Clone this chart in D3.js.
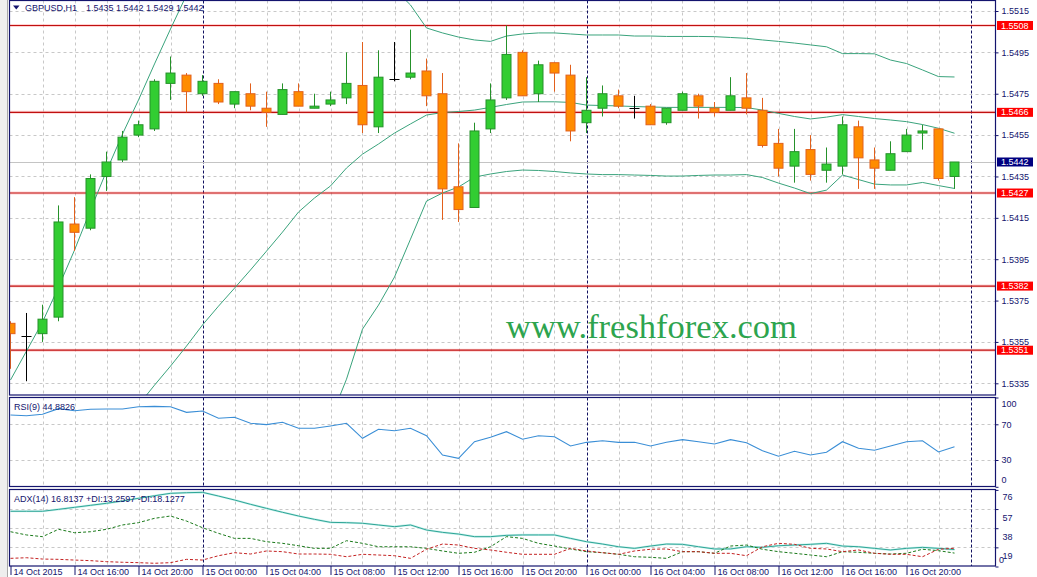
<!DOCTYPE html>
<html><head><meta charset="utf-8">
<script src="https://cdn.jsdelivr.net/npm/d3@7"></script>
<style>
html,body{margin:0;padding:0;background:#fff;overflow:hidden;}
svg{display:block;}
</style></head><body>
<svg id="chart" width="1037" height="577"></svg>
<script>
// ---------------- DATA ----------------
const symbol = "GBPUSD,H1";
const lastQuote = [1.5435, 1.5442, 1.5429, 1.5442];
const opens  = [1.5364,1.5358,1.5359,1.5367,1.5412,1.5410,1.5435,1.5443,1.5455,1.5458,
                1.5480,1.5484,1.5475,1.5480,1.5470,1.5475,1.5468,1.5465,1.5476,1.5468,
                1.5470,1.5473,1.5479,1.5459,1.5482,1.5483,1.5486,1.5475,1.5430,1.5420,
                1.5458,1.5473,1.5495,1.5475,1.5490,1.5484,1.5461,1.5468,1.5474,1.5468,
                1.5469,1.5461,1.5467,1.5474,1.5468,1.5467,1.5473,1.5467,1.5451,1.5440,
                1.5448,1.5438,1.5440,1.5459,1.5443,1.5438,1.5447,1.5456,1.5458,1.5435];
const highs  = [1.5365,1.5369,1.5373,1.5421,1.5425,1.5436,1.5447,1.5457,1.5462,1.5482,
                1.5493,1.5485,1.5484,1.5482,1.5476,1.5480,1.5476,1.5480,1.5480,1.5475,
                1.5476,1.5495,1.5500,1.5496,1.5500,1.5506,1.5492,1.5485,1.5451,1.5461,
                1.5480,1.5508,1.5496,1.5491,1.5490,1.5489,1.5483,1.5479,1.5477,1.5474,
                1.5470,1.5468,1.5476,1.5475,1.5471,1.5483,1.5485,1.5473,1.5458,1.5458,
                1.5455,1.5449,1.5464,1.5462,1.5449,1.5452,1.5458,1.5460,1.5458,1.5442];
const lows   = [1.5342,1.5336,1.5355,1.5365,1.5399,1.5409,1.5428,1.5442,1.5454,1.5457,
                1.5472,1.5466,1.5474,1.5470,1.5468,1.5467,1.5459,1.5465,1.5469,1.5468,
                1.5469,1.5470,1.5456,1.5456,1.5481,1.5482,1.5469,1.5414,1.5413,1.5420,
                1.5456,1.5472,1.5474,1.5471,1.5476,1.5452,1.5456,1.5464,1.5468,1.5463,
                1.5460,1.5460,1.5467,1.5463,1.5464,1.5467,1.5465,1.5449,1.5435,1.5432,
                1.5433,1.5432,1.5436,1.5429,1.5429,1.5438,1.5447,1.5448,1.5433,1.5429];
const closes = [1.5359,1.5358,1.5366,1.5413,1.5408,1.5434,1.5442,1.5454,1.5460,1.5481,
                1.5485,1.5476,1.5481,1.5471,1.5476,1.5469,1.5466,1.5477,1.5469,1.5469,
                1.5472,1.5480,1.5460,1.5483,1.5482,1.5485,1.5474,1.5429,1.5419,1.5457,
                1.5472,1.5494,1.5474,1.5489,1.5485,1.5457,1.5467,1.5475,1.5469,1.5468,
                1.5460,1.5468,1.5475,1.5469,1.5466,1.5474,1.5468,1.5450,1.5439,1.5447,
                1.5436,1.5441,1.5460,1.5444,1.5439,1.5446,1.5455,1.5457,1.5434,1.5442];

const bbUpper  = [1.53366,1.53506,1.53646,1.53815,1.53994,1.54188,1.54376,1.54555,1.54720,1.54894,
                  1.55063,1.55227,1.55324,1.55397,1.55445,1.55469,1.55484,1.55484,1.55469,1.55445,
                  1.55431,1.55411,1.55305,1.55285,1.55256,1.55179,1.55068,1.55044,1.55024,1.55010,
                  1.55003,1.55029,1.55039,1.55044,1.55044,1.55039,1.55034,1.55034,1.55034,1.55029,
                  1.55029,1.55027,1.55027,1.55027,1.55026,1.55022,1.55018,1.55010,1.55003,1.54995,
                  1.54986,1.54977,1.54944,1.54944,1.54943,1.54913,1.54896,1.54865,1.54833,1.54831];
const bbMiddle = [1.52548,1.52635,1.52722,1.52809,1.52896,1.52984,1.53071,1.53158,1.53245,1.53341,
                  1.53433,1.53530,1.53632,1.53723,1.53810,1.53898,1.53989,1.54081,1.54178,1.54246,
                  1.54304,1.54391,1.54458,1.54507,1.54560,1.54604,1.54647,1.54659,1.54664,1.54671,
                  1.54684,1.54698,1.54710,1.54711,1.54711,1.54708,1.54695,1.54693,1.54691,1.54688,
                  1.54686,1.54684,1.54684,1.54684,1.54684,1.54684,1.54683,1.54671,1.54655,1.54640,
                  1.54628,1.54637,1.54649,1.54640,1.54630,1.54623,1.54615,1.54601,1.54583,1.54559];
const bbLower  = [1.51731,1.51765,1.51799,1.51804,1.51799,1.51779,1.51765,1.51760,1.51770,1.51789,
                  1.51804,1.51833,1.51939,1.52050,1.52176,1.52326,1.52495,1.52679,1.52887,1.53046,
                  1.53177,1.53370,1.53612,1.53728,1.53864,1.54047,1.54231,1.54270,1.54299,1.54347,
                  1.54362,1.54374,1.54381,1.54379,1.54374,1.54367,1.54362,1.54359,1.54359,1.54357,
                  1.54355,1.54352,1.54352,1.54355,1.54357,1.54357,1.54359,1.54345,1.54318,1.54294,
                  1.54267,1.54284,1.54357,1.54335,1.54313,1.54309,1.54309,1.54321,1.54306,1.54292];

const rsi = [80.4,79.6,81.2,87.5,85.2,86.8,87.1,87.1,89.7,90.1,
             89.7,83.4,84.9,76.7,77.8,71.1,69.6,72.2,65.5,65.5,
             68.1,71.1,54.3,64.4,62.8,65.5,57.2,35.6,31.9,50.5,
             55.4,61.7,53.2,57.2,56.1,45.7,49.8,51.6,49.8,49.8,
             45.7,49.8,52.8,50.5,47.9,52.8,49.4,40.4,34.2,39.8,
             35.6,38.6,50.5,43.1,40.9,45.7,50.5,51.6,39.0,44.9];
const adx = [54.8,54.8,54.8,56.7,58.7,60.7,62.7,65.0,67.7,70.2,
             72.6,73.2,73.6,69.9,66.0,61.7,57.7,53.8,50.1,46.8,
             43.8,43.5,42.9,41.2,39.5,41.2,36.2,33.9,32.2,29.6,
             29.6,30.9,31.3,31.3,31.3,27.9,24.6,22.3,19.6,18.0,
             20.3,22.3,22.0,19.6,17.4,17.4,19.6,19.0,20.6,21.3,
             22.0,23.0,20.3,19.6,18.0,16.4,18.0,19.0,18.0,16.8];
const plusDI = [34.5,31.3,29.6,36.9,33.5,34.5,36.9,41.2,43.5,47.8,
                50.1,45.1,38.5,32.9,27.9,27.9,24.6,23.0,20.6,18.0,
                18.0,25.6,23.0,19.6,19.6,19.6,18.0,15.4,13.1,14.1,
                19.6,29.6,27.9,23.0,20.3,17.4,14.7,13.7,12.1,9.7,
                9.1,8.1,14.7,14.7,13.1,20.3,21.3,17.1,14.7,13.1,
                11.4,9.7,14.7,14.1,13.1,12.4,13.1,17.1,15.7,13.3];
const minusDI = [8.1,8.7,7.4,7.1,6.4,5.8,4.8,4.2,3.8,3.2,
                 3.8,7.1,6.4,10.7,13.7,12.4,15.4,14.7,12.4,12.4,
                 12.1,9.7,12.1,11.4,10.7,8.1,17.1,22.3,21.3,18.0,
                 16.4,14.1,12.1,12.1,12.1,18.0,15.4,13.7,12.1,15.4,
                 17.1,17.4,14.7,14.7,13.1,13.1,10.7,19.6,23.0,22.0,
                 18.0,17.4,14.7,16.4,13.1,12.1,12.1,9.7,17.1,18.1];

const levels = [1.5508, 1.5466, 1.5427, 1.5382, 1.5351];
const priceTicks = [1.5515,1.5495,1.5475,1.5455,1.5435,1.5415,1.5395,1.5375,1.5355,1.5335];
const timeLabels = ["14 Oct 2015","14 Oct 16:00","14 Oct 20:00","15 Oct 00:00","15 Oct 04:00",
                    "15 Oct 08:00","15 Oct 12:00","15 Oct 16:00","15 Oct 20:00","16 Oct 00:00",
                    "16 Oct 04:00","16 Oct 08:00","16 Oct 12:00","16 Oct 16:00","16 Oct 20:00"];
const timeLabelBars = [0,4,8,12,16,20,24,28,32,36,40,44,48,52,56];
const daySeparatorBars = [12, 36, 60];
const rsiTicks = [100, 70, 30, 0];
const rsiGrid = [70, 30];
const adxTicks = [76, 57, 38, 19, 0];
const adxGrid = [57, 38, 19];
const rsiLabel = "RSI(9) 44.8826";
const adxLabel = "ADX(14) 16.8137 +DI:13.2597 -DI:18.1277";
const watermark = "www.freshforex.com";

// ---------------- LAYOUT ----------------
const FONT = "'Liberation Sans', Arial, sans-serif";
const NAVY = "#14146e";
const svg = d3.select("#chart");
const L = 9.5, R = 995.5;
const P = {main:[0.5, 395], rsi:[397.5, 486.5], adx:[489.5, 566]};

const x  = d3.scaleLinear().domain([0, 60]).range([10.5, 970.5]);
const yP = d3.scaleLinear().domain([1.5335, 1.5515]).range([383.3, 11]);
const yR = d3.scaleLinear().domain([0, 100]).range([486.8, 397.5]);
const yA = d3.scaleLinear().domain([0, 76]).range([566.5, 489.9]);

svg.append("rect").attr("width",1037).attr("height",577).attr("fill","#fff");
// left window strip
svg.append("rect").attr("x",0).attr("y",0).attr("width",7).attr("height",577).attr("fill","#eeeeee");
svg.append("line").attr("x1",7.5).attr("x2",7.5).attr("y1",0).attr("y2",577).attr("stroke","#a8a8a8");

const defs = svg.append("defs");
Object.entries(P).forEach(([k,[t,b]])=>{
  defs.append("clipPath").attr("id","clip-"+k).append("rect")
    .attr("x",10).attr("y",t).attr("width",R-10).attr("height",b-t);
});

const barIdx = d3.range(opens.length);
const gridBars = d3.range(2, 61, 2).filter(b => !daySeparatorBars.includes(b));

function panelGrid(key, yScale, gridVals){
  const g = svg.append("g").attr("clip-path",`url(#clip-${key})`);
  const [t,b] = P[key];
  g.selectAll("line.v").data(gridBars).join("line")
    .attr("x1",d=>Math.round(x(d))+0.5).attr("x2",d=>Math.round(x(d))+0.5)
    .attr("y1",t).attr("y2",b)
    .attr("stroke","#c8c8c8").attr("stroke-dasharray","3,3");
  g.selectAll("line.h").data(gridVals).join("line")
    .attr("x1",L).attr("x2",R)
    .attr("y1",d=>Math.round(yScale(d))+0.5).attr("y2",d=>Math.round(yScale(d))+0.5)
    .attr("stroke","#c8c8c8").attr("stroke-dasharray","3,3");
  g.selectAll("line.sep").data(daySeparatorBars).join("line")
    .attr("x1",d=>Math.round(x(d))+0.5).attr("x2",d=>Math.round(x(d))+0.5)
    .attr("y1",t).attr("y2",b)
    .attr("stroke","#101060").attr("stroke-dasharray","3,2");
  return g;
}

// ---------------- MAIN PANEL ----------------
const gm = panelGrid("main", yP, priceTicks);

// watermark
gm.append("text").attr("x",506).attr("y",338).text(watermark)
  .attr("font-family","'Liberation Serif','Times New Roman',serif")
  .attr("font-size","34.5px").attr("fill","#2da44e");

// current price line
gm.append("line").attr("x1",L).attr("x2",R)
  .attr("y1",Math.round(yP(lastQuote[3]))+0.5).attr("y2",Math.round(yP(lastQuote[3]))+0.5)
  .attr("stroke","#c4c4c4");

// horizontal levels
gm.selectAll("line.lvlh").data(levels).join("line")
  .attr("x1",L).attr("x2",R).attr("y1",d=>yP(d)).attr("y2",d=>yP(d))
  .attr("stroke","rgba(255,80,80,0.25)").attr("stroke-width",3);
gm.selectAll("line.lvl").data(levels).join("line")
  .attr("x1",L).attr("x2",R).attr("y1",d=>yP(d)).attr("y2",d=>yP(d))
  .attr("stroke","#c01010").attr("stroke-width",1.2);

// Bollinger bands
const bbLine = d3.line().x((d,i)=>x(i)).y(d=>yP(d));
[bbUpper, bbMiddle, bbLower].forEach(arr=>{
  gm.append("path").datum(arr).attr("d",bbLine)
    .attr("fill","none").attr("stroke","#3aa37c").attr("stroke-width",1);
});

// candles
const bars = barIdx.map(i=>({i,o:opens[i],h:highs[i],l:lows[i],c:closes[i]}));
const BULL = {fill:"#32CD32", stroke:"#25912a"};
const BEAR = {fill:"#FF8C00", stroke:"#e2601c"};
const cg = gm.append("g").selectAll("g").data(bars).join("g");
cg.append("line")
  .attr("x1",d=>x(d.i)).attr("x2",d=>x(d.i))
  .attr("y1",d=>yP(d.h)).attr("y2",d=>yP(d.l))
  .attr("stroke",d=> d.o===d.c ? "#000" : (d.c>d.o?BULL.stroke:BEAR.stroke)).attr("stroke-width",1);
cg.filter(d=>d.o!==d.c).append("rect")
  .attr("x",d=>x(d.i)-4.5).attr("width",9)
  .attr("y",d=>yP(Math.max(d.o,d.c)))
  .attr("height",d=>Math.max(1, yP(Math.min(d.o,d.c))-yP(Math.max(d.o,d.c))))
  .attr("fill",d=>d.c>d.o?BULL.fill:BEAR.fill)
  .attr("stroke",d=>d.c>d.o?BULL.stroke:BEAR.stroke).attr("stroke-width",1);
cg.filter(d=>d.o===d.c).append("line")
  .attr("x1",d=>x(d.i)-5).attr("x2",d=>x(d.i)+5)
  .attr("y1",d=>Math.round(yP(d.o))+0.5).attr("y2",d=>Math.round(yP(d.o))+0.5)
  .attr("stroke","#000");

// ---------------- RSI PANEL ----------------
const gr = panelGrid("rsi", yR, rsiGrid);
gr.append("path").datum(rsi)
  .attr("d", d3.line().x((d,i)=>x(i)).y(d=>yR(d)))
  .attr("fill","none").attr("stroke","#3a8ed6").attr("stroke-width",1.1);

// ---------------- ADX PANEL ----------------
const ga = panelGrid("adx", yA, adxGrid);
const aLine = d3.line().x((d,i)=>x(i)).y(d=>yA(d));
ga.append("path").datum(adx).attr("d",aLine).attr("fill","none")
  .attr("stroke","#c9f1ed").attr("stroke-width",2.2);
ga.append("path").datum(adx).attr("d",aLine).attr("fill","none")
  .attr("stroke","#2ea596").attr("stroke-width",1);
ga.append("path").datum(plusDI).attr("d",aLine).attr("fill","none")
  .attr("stroke","#1b7a1b").attr("stroke-width",1).attr("stroke-dasharray","3,2");
ga.append("path").datum(minusDI).attr("d",aLine).attr("fill","none")
  .attr("stroke","#c42222").attr("stroke-width",1).attr("stroke-dasharray","3,2");

// ---------------- FRAMES ----------------
Object.values(P).forEach(([t,b])=>{
  svg.append("rect").attr("x",L).attr("y",t).attr("width",R-L).attr("height",b-t)
    .attr("fill","none").attr("stroke",NAVY).attr("stroke-width",1.2);
});

// ---------------- AXES ----------------
function styleAxis(g){
  g.attr("font-family",FONT).attr("font-size",9);
  g.select(".domain").remove();
  g.selectAll("line").attr("stroke",NAVY);
  g.selectAll("text").attr("fill",NAVY);
}
const pAx = svg.append("g").attr("transform",`translate(${R},0)`)
  .call(d3.axisRight(yP).tickValues(priceTicks).tickFormat(d3.format(".4f")).tickSize(3).tickPadding(3));
styleAxis(pAx);

const rAx = svg.append("g").attr("transform",`translate(${R},0)`)
  .call(d3.axisRight(yR).tickValues(rsiTicks).tickFormat(d3.format("d")).tickSize(3).tickPadding(3));
styleAxis(rAx);
rAx.selectAll(".tick text").attr("y",d=> d===100 ? 6.5 : (d===0 ? -6.8 : 0));

const aAx = svg.append("g").attr("transform",`translate(${R},0)`)
  .call(d3.axisRight(yA).tickValues(adxTicks).tickFormat(d3.format("d")).tickSize(3).tickPadding(3));
styleAxis(aAx);
aAx.selectAll(".tick text").attr("y",d=> d===0 ? -6.5 : (d===76 ? 6.8 : 8.3))
  .attr("x",d=> d===0 ? 3.5 : 7);

const tAx = svg.append("g").attr("transform",`translate(0,${P.adx[1]})`)
  .call(d3.axisBottom(x).tickValues(timeLabelBars)
    .tickFormat(d=>timeLabels[timeLabelBars.indexOf(d)]).tickSize(9));
styleAxis(tAx);
tAx.selectAll(".tick text").attr("text-anchor","start").attr("x",2.5).attr("y",8.6).attr("dy",0);

// level labels
const lv = svg.append("g").attr("font-family",FONT).attr("font-size",9);
lv.selectAll("rect").data(levels).join("rect")
  .attr("x",997).attr("y",d=>yP(d)-4.5).attr("width",36).attr("height",9).attr("fill","#ff0000");
lv.selectAll("text").data(levels).join("text")
  .attr("x",1001).attr("y",d=>yP(d)).attr("dy","0.35em").attr("fill","#fff")
  .text(d=>d.toFixed(4));
// current price label
lv.append("rect").attr("x",997).attr("y",yP(lastQuote[3])-4.5).attr("width",36).attr("height",9).attr("fill","#000080");
lv.append("text").attr("x",1001).attr("y",yP(lastQuote[3])).attr("dy","0.35em").attr("fill","#fff")
  .text(lastQuote[3].toFixed(4));

// ---------------- LABELS ----------------
const lab = svg.append("g").attr("font-family",FONT).attr("font-size",9).attr("fill",NAVY);
lab.append("path").attr("d","M13,5.5 L19.5,5.5 L16.25,9.5 Z").attr("fill",NAVY);
lab.append("text").attr("x",25).attr("y",11).text(symbol);
lab.append("text").attr("x",86).attr("y",11).text(lastQuote.map(v=>v.toFixed(4)).join(" "));
lab.append("text").attr("x",14).attr("y",410).text(rsiLabel);
lab.append("text").attr("x",14).attr("y",502).text(adxLabel);
</script>
</body></html>
